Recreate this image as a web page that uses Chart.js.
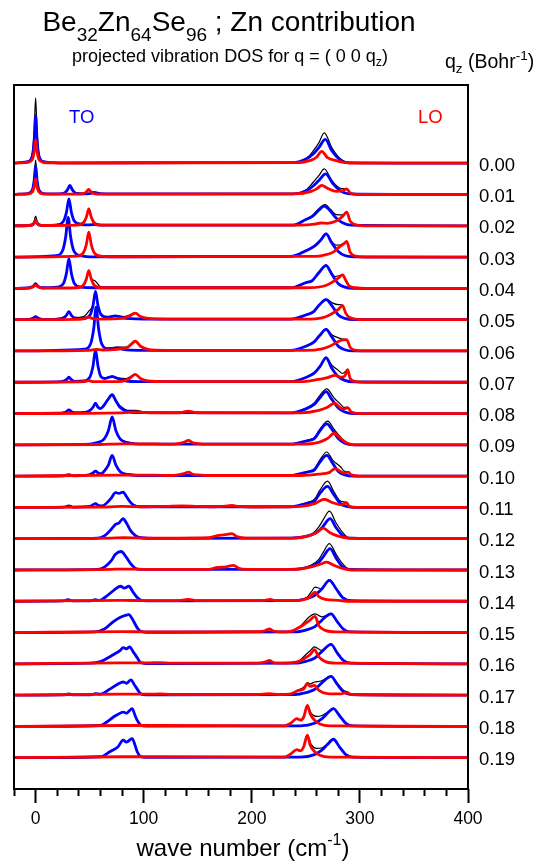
<!DOCTYPE html>
<html>
<head>
<meta charset="utf-8">
<script src="https://cdn.jsdelivr.net/npm/chart.js@4.4.1/dist/chart.umd.min.js"></script>
<style>
  body { margin: 0; background: #fff; }
  #wrap { position: relative; width: 550px; height: 864px; font-family: 'Liberation Sans', Arial, sans-serif; }
  #dos { position: absolute; left: 0; top: 0; }
  .txt { position: absolute; white-space: nowrap; color: #000; }
  .sub { position: relative; }
</style>
</head>
<body>
<div id="wrap">
  <canvas id="dos" width="550" height="864"></canvas>
  <div class="txt" style="left:-46px;width:550px;text-align:center;top:8px;font-size:28px;line-height:28px">Be<span class="sub" style="font-size:19px;top:10px">32</span>Zn<span class="sub" style="font-size:19px;top:10px">64</span>Se<span class="sub" style="font-size:19px;top:10px">96</span> ; Zn contribution</div>
  <div class="txt" style="left:-45px;width:550px;text-align:center;top:47px;font-size:18px;line-height:18px">projected vibration DOS for q = ( 0 0 q<span class="sub" style="font-size:12.5px;top:4px">z</span>)</div>
  <div class="txt" style="left:445px;top:52px;font-size:19.5px;line-height:19.5px">q<span class="sub" style="font-size:13.5px;top:5px">z</span> (Bohr<span class="sub" style="font-size:13.5px;top:-8px">-1</span>)</div>
  <div class="txt" style="left:69px;top:108px;font-size:18.5px;line-height:18.5px;color:#0000ff">TO</div>
  <div class="txt" style="left:418px;top:108px;font-size:18.5px;line-height:18.5px;color:#ff0000">LO</div>
  <div class="txt" style="left:-32px;width:550px;text-align:center;top:836px;font-size:24px;line-height:24px">wave number (cm<span class="sub" style="font-size:16px;top:-11px">-1</span>)</div>
</div>
<script>
const qz = ['0.00', '0.01', '0.02', '0.03', '0.04', '0.05', '0.06', '0.07', '0.08', '0.09',
    '0.10', '0.11', '0.12', '0.13', '0.14', '0.15', '0.16', '0.17', '0.18', '0.19']

const xTickValues = [-20, 0, 20, 40, 60, 80, 100, 120, 140, 160, 180, 200, 220, 240, 260, 280, 300, 320, 340, 360, 380, 400]
const xTickLabels = ['0', '100', '200', '300', '400']

// [wave number (cm-1), intensity] ; one row per qz, rows stacked with unit spacing
const toDos = [
    [[-20,0],[-15,0.02],[-7,0.05],[-3,0.24],[-1.3,0.76],[0,1.52],[1.3,0.76],[3,0.24],[7,0.05],[15,0.02],[25,0.01],[150,0.02],[238,0.02],[251,0.15],[257,0.3],[262,0.5],[268,0.76],[274,0.4],[281.6,0.11],[288,0.02],[400,0]],
    [[-20,0],[-15,0.01],[-7,0.03],[-3,0.15],[-1.3,0.47],[0,0.93],[1.3,0.47],[3,0.15],[7,0.03],[15,0.02],[21,0.02],[26.7,0.05],[29.4,0.15],[31.7,0.29],[34,0.15],[36.7,0.05],[43,0.02],[50,0.03],[55,0.06],[60,0.03],[90,0.02],[238,0.02],[251,0.13],[257,0.28],[262,0.45],[268.4,0.66],[275,0.35],[282,0.12],[290,0.02],[400,0]],
    [[-20,0],[-7,0.01],[-3,0.03],[-1.3,0.08],[0,0.17],[1.3,0.08],[3,0.03],[8,0.01],[19.8,0.03],[25.8,0.15],[28.5,0.43],[30.8,0.86],[33.1,0.43],[35.8,0.15],[41.8,0.04],[50,0.03],[55,0.04],[62,0.02],[238,0.02],[250,0.2],[256,0.3],[262,0.5],[267,0.63],[272,0.5],[278,0.25],[284,0.1],[292,0.02],[400,0]],
    [[-20,0],[19.1,0.05],[25.1,0.22],[27.8,0.64],[30.1,1.27],[32.4,0.64],[35.1,0.22],[41.1,0.05],[55,0.01],[236,0.02],[250,0.2],[258,0.35],[264,0.55],[268.7,0.74],[274,0.45],[280,0.18],[286,0.05],[294,0.01],[400,0]],
    [[-20,0],[-6,0.02],[-2,0.07],[0,0.15],[2,0.07],[6,0.02],[19.8,0.04],[25.8,0.16],[28.5,0.48],[30.8,0.95],[33.1,0.48],[35.8,0.16],[41.8,0.04],[55,0.02],[236,0.02],[250,0.18],[256,0.25],[262,0.5],[268.7,0.73],[274,0.45],[280,0.15],[286,0.04],[294,0],[400,0]],
    [[-20,0],[-6,0.01],[-2,0.05],[0,0.1],[2,0.05],[6,0.01],[19.8,0.02],[25.8,0.06],[28.5,0.14],[30.8,0.26],[33.1,0.14],[35.8,0.06],[44.4,0.04],[50.4,0.15],[53.1,0.45],[55.4,0.9],[57.7,0.45],[60.4,0.17],[66,0.08],[73.9,0.12],[80,0.06],[88,0.03],[100,0.02],[236,0.02],[250,0.15],[257,0.25],[262,0.45],[268.7,0.64],[274,0.45],[280,0.15],[286,0.04],[294,0],[400,0]],
    [[-20,0],[45,0.06],[51,0.24],[53.7,0.7],[56,1.4],[58.3,0.7],[61,0.24],[67,0.07],[75.4,0.1],[82,0.04],[95,0.02],[236,0.02],[250,0.15],[258,0.3],[263,0.5],[268.7,0.69],[274,0.45],[280,0.15],[286,0.04],[294,0],[400,0]],
    [[-20,0],[20,0.01],[26,0.04],[28.5,0.08],[30.8,0.16],[33.1,0.08],[36,0.03],[44.4,0.04],[50.4,0.18],[53.1,0.52],[55.4,1.04],[57.7,0.52],[60.4,0.18],[64,0.12],[70.8,0.18],[76,0.12],[84,0.04],[95,0.02],[236,0.02],[250,0.15],[258,0.3],[263,0.5],[268.7,0.78],[274,0.45],[280,0.18],[286,0.06],[294,0.01],[400,0]],
    [[-20,0],[20,0.01],[26,0.03],[28.5,0.06],[30.8,0.12],[33.1,0.06],[36,0.03],[46,0.04],[51,0.12],[53.1,0.2],[55.4,0.33],[57.7,0.2],[60,0.16],[63,0.25],[67,0.45],[70.8,0.6],[74.3,0.4],[78,0.2],[85,0.07],[95,0.03],[236,0.02],[250,0.15],[258,0.3],[263,0.5],[268.7,0.7],[274,0.45],[280,0.18],[286,0.05],[294,0],[400,0]],
    [[-20,0],[50,0.02],[56,0.06],[63.3,0.18],[67.3,0.45],[70.8,0.89],[74.3,0.45],[78.3,0.18],[86,0.06],[100,0.02],[236,0.02],[250,0.12],[253,0.14],[258,0.2],[263,0.45],[269.3,0.67],[275,0.45],[280,0.2],[286,0.05],[294,0],[400,0]],
    [[-20,0],[26,0.01],[30.8,0.05],[35,0.01],[48,0.03],[53,0.1],[55.4,0.16],[58,0.1],[61,0.08],[63.3,0.15],[67.3,0.35],[70.8,0.66],[74.3,0.35],[78.3,0.14],[86,0.05],[100,0.02],[236,0.02],[250,0.12],[253,0.14],[258,0.2],[263,0.45],[269.3,0.66],[275,0.4],[280,0.15],[286,0.04],[294,0],[400,0]],
    [[-20,0],[26,0.01],[30.8,0.05],[35,0.01],[50,0.03],[55.4,0.12],[58,0.06],[62,0.05],[66,0.15],[70,0.3],[73.9,0.47],[77,0.45],[81,0.49],[84,0.35],[88,0.15],[91,0.06],[96,0.02],[236,0.02],[250,0.12],[253,0.15],[258,0.2],[263,0.45],[270,0.67],[276,0.4],[282,0.12],[288,0.03],[295,0],[400,0]],
    [[-20,0],[30,0.01],[57,0.02],[64,0.1],[70,0.3],[73.9,0.46],[77,0.5],[81,0.64],[84,0.5],[88,0.25],[92.3,0.1],[97,0.03],[110,0.01],[236,0.02],[255,0.12],[262,0.25],[266,0.4],[272.4,0.64],[278,0.35],[284,0.1],[290,0.02],[400,0]],
    [[-20,0],[57,0.02],[64,0.1],[70,0.3],[73.9,0.5],[79.1,0.59],[84,0.4],[88,0.2],[92.3,0.05],[97,0.02],[236,0.02],[255,0.12],[262,0.25],[266,0.42],[272.4,0.68],[278,0.38],[284,0.1],[290,0.02],[400,0]],
    [[-20,0],[26,0.01],[30,0.05],[34,0.01],[51,0.01],[55,0.05],[59,0.03],[64,0.12],[72.3,0.35],[78.5,0.48],[82,0.42],[86.2,0.48],[90,0.3],[94,0.12],[97,0.04],[102,0.01],[240,0.02],[250,0.08],[258,0.18],[265,0.4],[271.8,0.67],[278,0.4],[284,0.12],[292,0.02],[400,0]],
    [[-20,0],[55,0.02],[64,0.12],[72,0.35],[78.5,0.49],[83.1,0.55],[86.2,0.57],[90,0.4],[94,0.15],[97,0.04],[102,0.01],[240,0.02],[250,0.08],[258,0.18],[265,0.4],[273.3,0.6],[279,0.35],[285,0.1],[292,0.02],[400,0]],
    [[-20,0],[50.8,0.02],[60,0.07],[72.3,0.3],[78,0.42],[81,0.52],[84,0.48],[87,0.54],[90,0.4],[93.9,0.2],[97,0.04],[102,0.01],[240,0.02],[250,0.08],[258,0.18],[265,0.4],[273.3,0.62],[279,0.35],[285,0.1],[292,0.02],[400,0]],
    [[-20,0],[26,0.01],[30.8,0.04],[35,0.01],[51,0.01],[55.4,0.05],[60,0.03],[69,0.2],[76,0.35],[81,0.42],[84,0.38],[88.3,0.49],[91,0.35],[93.9,0.2],[97,0.05],[102,0.01],[240,0.02],[250,0.08],[258,0.18],[265,0.4],[273.3,0.6],[279,0.35],[285,0.1],[292,0.02],[400,0]],
    [[-20,0],[60,0.03],[66.2,0.15],[72,0.3],[76,0.38],[81,0.46],[84,0.42],[89.3,0.57],[92,0.35],[93.9,0.2],[97,0.05],[102,0.01],[245,0.02],[258,0.1],[265,0.25],[270,0.42],[275.5,0.57],[281,0.35],[287,0.1],[294,0.02],[400,0]],
    [[-20,0],[60,0.03],[69,0.2],[76,0.34],[81,0.56],[84,0.5],[89.3,0.61],[92,0.4],[93.9,0.2],[97,0.04],[102,0.01],[245,0.02],[258,0.1],[265,0.25],[270,0.42],[275.5,0.59],[281,0.35],[287,0.1],[294,0.02],[400,0]]
]

const loDos = [
    [[-20,0],[-15,0.01],[-7,0.03],[-3,0.12],[-1.3,0.38],[0,0.75],[1.3,0.38],[3,0.12],[7,0.03],[15,0.01],[25,0],[240,0.02],[255,0.1],[260,0.2],[264.7,0.38],[270,0.18],[278,0.08],[285,0.03],[295,0],[400,0]],
    [[-20,0],[-15,0.01],[-7,0.02],[-3,0.08],[-1.3,0.25],[0,0.5],[1.3,0.25],[3,0.08],[7,0.02],[15,0.01],[38,0.01],[44,0.03],[46.9,0.08],[49,0.16],[51.3,0.08],[54,0.03],[60,0.01],[240,0.02],[255,0.1],[260,0.18],[264.7,0.29],[270,0.2],[278,0.1],[284,0.12],[287.8,0.18],[291,0.05],[298,0],[400,0]],
    [[-20,0],[-7,0.01],[-3,0.03],[-1.3,0.08],[0,0.17],[1.3,0.08],[3,0.03],[8,0.01],[38.2,0.02],[44.2,0.09],[46.9,0.27],[49.2,0.54],[51.5,0.27],[54.2,0.09],[60.2,0.02],[245,0.02],[258,0.05],[264,0.09],[270,0.08],[278,0.15],[284,0.3],[287.8,0.44],[291,0.15],[296,0.03],[305,0],[400,0]],
    [[-20,0],[38.2,0.03],[44.2,0.14],[46.9,0.4],[49.2,0.8],[51.5,0.4],[54.2,0.14],[60.2,0.03],[70,0.01],[250,0.02],[265,0.05],[275,0.15],[282,0.35],[285,0.42],[287.8,0.5],[291,0.15],[296,0.03],[305,0],[400,0]],
    [[-20,0],[-6,0.01],[-2,0.05],[0,0.1],[2,0.05],[6,0.01],[38.2,0.02],[44.2,0.1],[46.9,0.29],[49.2,0.57],[51.5,0.29],[54.2,0.1],[60.2,0.02],[250,0.02],[265,0.06],[272,0.15],[280,0.33],[284,0.43],[287,0.25],[290,0.08],[296,0.02],[305,0],[400,0]],
    [[-20,0],[40,0.01],[46,0.04],[49.2,0.08],[52,0.04],[60,0.02],[80,0.04],[86,0.1],[92.3,0.21],[97,0.1],[104,0.04],[120,0.02],[250,0.02],[265,0.06],[272,0.15],[280,0.33],[284,0.45],[287,0.2],[290,0.08],[296,0.02],[305,0],[400,0]],
    [[-20,0],[50,0.02],[56,0.05],[62,0.03],[75,0.05],[84,0.1],[88,0.2],[92.3,0.31],[97,0.15],[104,0.05],[120,0.02],[250,0.02],[265,0.07],[272,0.15],[280,0.3],[284,0.35],[287.8,0.36],[291,0.12],[296,0.02],[305,0],[400,0]],
    [[-20,0],[45,0.02],[49.2,0.05],[53,0.02],[80,0.03],[86,0.1],[92.3,0.25],[97,0.12],[104,0.04],[120,0.02],[245,0.02],[260,0.08],[270,0.15],[277,0.22],[282,0.16],[286,0.2],[288.7,0.4],[291,0.12],[296,0.02],[305,0],[400,0]],
    [[-20,0],[80,0.02],[92.3,0.05],[105,0.02],[130,0.02],[136,0.04],[141.5,0.08],[146,0.04],[155,0.02],[245,0.02],[262,0.1],[270,0.2],[276.4,0.33],[282,0.18],[285,0.14],[288.7,0.19],[292,0.05],[300,0],[400,0]],
    [[-20,0],[60,0.01],[80,0.03],[110,0.03],[125,0.02],[133,0.05],[137,0.08],[141.5,0.14],[145,0.07],[150,0.04],[160,0.02],[245,0.02],[262,0.08],[270,0.2],[276.4,0.37],[282,0.2],[288,0.06],[295,0],[400,0]],
    [[-20,0],[80,0.03],[110,0.03],[125,0.02],[133,0.05],[137,0.08],[141.5,0.13],[145,0.06],[150,0.04],[160,0.02],[245,0.02],[262,0.06],[272,0.12],[277,0.24],[282,0.15],[286,0.1],[289.3,0.13],[292,0.04],[300,0],[400,0]],
    [[-20,0],[60,0.01],[80,0.03],[100,0.02],[120,0.03],[135,0.05],[150,0.03],[165,0.02],[175,0.04],[181.6,0.06],[188,0.03],[200,0.01],[245,0.03],[258,0.12],[267,0.26],[275,0.15],[283,0.08],[287.8,0.15],[290,0.04],[297,0],[400,0]],
    [[-20,0],[70,0.02],[81,0.03],[100,0.02],[130,0.02],[160,0.03],[168,0.1],[174,0.12],[181.6,0.16],[186,0.07],[195,0.02],[240,0.02],[252,0.08],[260,0.2],[266.2,0.34],[272,0.2],[280,0.08],[290,0.02],[400,0]],
    [[-20,0],[70,0.02],[81,0.03],[100,0.02],[140,0.02],[160,0.02],[168,0.08],[176,0.1],[183,0.15],[188,0.05],[195,0.02],[240,0.02],[255,0.1],[263,0.18],[269.3,0.25],[276,0.15],[284,0.05],[292,0],[400,0]],
    [[-20,0],[81,0.03],[100,0.02],[130,0.02],[141.5,0.06],[150,0.02],[200,0.02],[212,0.03],[217,0.06],[222,0.02],[240,0.02],[248,0.05],[253,0.12],[256,0.22],[258.5,0.29],[262,0.15],[268,0.06],[280,0.03],[290,0],[400,0]],
    [[-20,0],[81,0.03],[100,0.02],[160,0.02],[200,0.03],[210,0.04],[213.5,0.08],[216.4,0.12],[219.3,0.06],[225,0.02],[235,0.03],[244.7,0.18],[253,0.37],[258.5,0.52],[262,0.22],[268,0.07],[278,0.02],[400,0]],
    [[-20,0],[81,0.03],[105,0.03],[115,0.04],[125,0.02],[200,0.02],[210,0.04],[213.5,0.07],[216.4,0.11],[219.3,0.05],[225,0.02],[235,0.03],[244.7,0.09],[250,0.2],[254,0.3],[258,0.45],[262,0.22],[268,0.07],[278,0.02],[400,0]],
    [[-20,0],[81,0.03],[105,0.03],[115,0.04],[125,0.02],[205,0.02],[216,0.05],[225,0.02],[235,0.03],[243.1,0.15],[248,0.2],[251.4,0.37],[254,0.28],[258,0.31],[262,0.15],[270,0.05],[282,0.04],[288.6,0.08],[292,0.02],[400,0]],
    [[-20,0],[81,0.03],[115,0.03],[230,0.02],[236,0.1],[241.6,0.25],[245,0.2],[248,0.3],[251.4,0.67],[254,0.4],[258,0.2],[263,0.08],[272,0.02],[400,0]],
    [[-20,0],[81,0.03],[115,0.03],[230,0.02],[236,0.12],[241.6,0.26],[245,0.22],[248,0.35],[251.4,0.72],[254,0.4],[258,0.2],[263,0.08],[272,0.02],[400,0]]
]

const totalDos = [
    [[-20,0],[-15,0.02],[-7,0.07],[-3,0.33],[-1.3,1.05],[0,2.09],[1.3,1.05],[3,0.33],[7,0.07],[15,0.02],[25,0.01],[238,0.02],[251,0.17],[257,0.4],[262,0.65],[267,0.97],[274,0.5],[281.6,0.15],[288,0.03],[295,0],[400,0]],
    [[-20,0],[-15,0.01],[-7,0.04],[-3,0.18],[-1.3,0.55],[0,1.1],[1.3,0.55],[3,0.18],[7,0.04],[15,0.02],[21,0.02],[26.7,0.05],[29.4,0.15],[31.7,0.3],[34,0.15],[36.7,0.06],[44,0.04],[46.9,0.09],[49,0.17],[51.3,0.1],[55,0.08],[60,0.03],[90,0.02],[238,0.02],[251,0.17],[257,0.4],[262,0.6],[267,0.82],[274,0.45],[282,0.2],[287.8,0.18],[292,0.04],[300,0],[400,0]],
    [[-20,0],[-7,0.02],[-3,0.06],[-1.3,0.16],[0,0.31],[1.3,0.16],[3,0.06],[8,0.02],[19.8,0.03],[25.8,0.15],[28.5,0.44],[30.8,0.87],[33.1,0.44],[35.8,0.16],[41.8,0.08],[46.9,0.28],[49.2,0.55],[51.5,0.3],[55,0.1],[60.2,0.04],[238,0.02],[250,0.22],[256,0.33],[262,0.55],[267.8,0.68],[273,0.52],[278,0.36],[284,0.35],[287.8,0.44],[291,0.15],[296,0.03],[305,0],[400,0]],
    [[-20,0],[19.1,0.05],[25.1,0.22],[27.8,0.65],[30.1,1.28],[32.4,0.65],[35.1,0.24],[41.1,0.08],[44.2,0.15],[46.9,0.41],[49.2,0.81],[51.5,0.41],[54.2,0.15],[60.2,0.03],[236,0.02],[250,0.22],[258,0.37],[264,0.57],[268.7,0.76],[274,0.5],[278.6,0.38],[284,0.42],[287.8,0.5],[291,0.15],[296,0.03],[305,0],[400,0]],
    [[-20,0],[-6,0.02],[-2,0.07],[0,0.15],[2,0.07],[6,0.02],[19.8,0.04],[25.8,0.16],[28.5,0.49],[30.8,0.96],[33.1,0.49],[35.8,0.17],[41.8,0.06],[44.2,0.11],[46.9,0.3],[49.2,0.58],[51.5,0.32],[55.4,0.23],[59,0.08],[65,0.02],[236,0.02],[250,0.2],[256,0.27],[262,0.52],[268.7,0.75],[277,0.38],[284,0.43],[287,0.25],[290,0.08],[296,0.02],[305,0],[400,0]],
    [[-20,0],[-6,0.01],[-2,0.05],[0,0.1],[2,0.05],[6,0.01],[19.8,0.02],[25.8,0.06],[28.5,0.15],[30.8,0.27],[33.1,0.15],[35.8,0.07],[44.4,0.1],[49.2,0.27],[53.1,0.47],[55.4,0.92],[57.7,0.47],[60.4,0.18],[66,0.09],[73.9,0.13],[82,0.1],[86,0.14],[92.3,0.22],[97,0.11],[104,0.04],[120,0.02],[236,0.02],[250,0.16],[257,0.27],[262,0.47],[268.7,0.66],[275,0.53],[280,0.48],[284,0.46],[287,0.2],[290,0.08],[296,0.02],[305,0],[400,0]],
    [[-20,0],[45,0.06],[51,0.25],[53.7,0.71],[56,1.42],[58.3,0.71],[61,0.26],[67,0.09],[75.4,0.12],[84,0.12],[88,0.21],[92.3,0.32],[97,0.16],[104,0.05],[120,0.02],[236,0.02],[250,0.16],[258,0.32],[263,0.52],[268.7,0.71],[274,0.52],[280,0.42],[284,0.38],[287.8,0.36],[291,0.12],[296,0.02],[305,0],[400,0]],
    [[-20,0],[20,0.01],[26,0.04],[28.5,0.08],[30.8,0.16],[33.1,0.08],[36,0.03],[44.4,0.05],[50.4,0.19],[53.1,0.53],[55.4,1.05],[57.7,0.53],[60.4,0.19],[64,0.14],[70.8,0.2],[76,0.14],[84,0.12],[92.3,0.26],[97,0.12],[104,0.04],[120,0.02],[236,0.02],[250,0.16],[258,0.32],[263,0.52],[268.7,0.8],[274,0.55],[280,0.38],[284,0.28],[288.7,0.4],[291,0.12],[296,0.02],[305,0],[400,0]],
    [[-20,0],[20,0.01],[26,0.03],[28.5,0.06],[30.8,0.12],[33.1,0.06],[36,0.03],[46,0.04],[51,0.13],[53.1,0.21],[55.4,0.34],[57.7,0.21],[60,0.17],[63,0.26],[67,0.46],[70.8,0.61],[74.3,0.42],[78,0.25],[80,0.2],[85,0.1],[92.3,0.1],[105,0.03],[136,0.04],[141.5,0.08],[146,0.04],[236,0.02],[250,0.17],[258,0.35],[263,0.58],[269.3,0.79],[276,0.5],[282,0.3],[285,0.2],[288.7,0.2],[292,0.05],[300,0],[400,0]],
    [[-20,0],[50,0.02],[56,0.06],[63.3,0.19],[67.3,0.46],[70.8,0.9],[74.3,0.46],[78.3,0.2],[86,0.08],[100,0.03],[110,0.03],[125,0.02],[133,0.05],[137,0.08],[141.5,0.15],[145,0.07],[150,0.04],[160,0.02],[236,0.02],[250,0.13],[253,0.16],[258,0.24],[263,0.5],[270.2,0.76],[276,0.5],[282,0.25],[288,0.06],[295,0],[400,0]],
    [[-20,0],[26,0.01],[30.8,0.05],[35,0.01],[48,0.03],[53,0.1],[55.4,0.16],[58,0.1],[61,0.09],[63.3,0.16],[67.3,0.36],[70.8,0.67],[74.3,0.36],[78.3,0.15],[86,0.07],[110,0.03],[133,0.05],[137,0.08],[141.5,0.14],[145,0.06],[150,0.04],[160,0.02],[236,0.02],[250,0.13],[253,0.16],[258,0.24],[263,0.52],[269.3,0.77],[275,0.5],[282,0.3],[286,0.15],[289.3,0.14],[292,0.04],[300,0],[400,0]],
    [[-20,0],[26,0.01],[30.8,0.05],[35,0.01],[50,0.03],[55.4,0.13],[58,0.07],[62,0.06],[66,0.16],[70,0.31],[73.9,0.48],[77,0.46],[81,0.5],[84,0.36],[88,0.17],[91,0.08],[96,0.04],[120,0.03],[135,0.05],[150,0.03],[175,0.04],[181.6,0.06],[188,0.03],[236,0.02],[250,0.14],[253,0.17],[258,0.26],[263,0.55],[270,0.84],[276,0.5],[282,0.2],[287.8,0.15],[290,0.04],[297,0],[400,0]],
    [[-20,0],[30,0.01],[57,0.02],[64,0.11],[70,0.31],[73.9,0.47],[77,0.51],[81,0.65],[84,0.51],[88,0.26],[92.3,0.11],[97,0.04],[130,0.02],[160,0.03],[168,0.1],[174,0.12],[181.6,0.16],[186,0.07],[195,0.02],[236,0.02],[255,0.14],[262,0.38],[266,0.6],[271.8,0.88],[278,0.5],[284,0.2],[290,0.03],[400,0]],
    [[-20,0],[57,0.02],[64,0.11],[70,0.31],[73.9,0.51],[79.1,0.6],[84,0.41],[88,0.21],[92.3,0.06],[97,0.03],[160,0.02],[168,0.08],[176,0.1],[183,0.15],[188,0.05],[195,0.02],[236,0.02],[255,0.16],[262,0.34],[266,0.56],[271.8,0.84],[278,0.5],[284,0.2],[290,0.03],[400,0]],
    [[-20,0],[26,0.01],[30,0.05],[34,0.01],[51,0.01],[55,0.05],[59,0.03],[64,0.12],[72.3,0.36],[78.5,0.49],[82,0.43],[86.2,0.49],[90,0.31],[94,0.13],[97,0.05],[102,0.02],[130,0.02],[141.5,0.06],[150,0.02],[200,0.02],[212,0.03],[217,0.06],[222,0.02],[240,0.02],[251,0.13],[255,0.3],[258.5,0.45],[264.7,0.4],[271.8,0.69],[278,0.42],[284,0.13],[292,0.02],[400,0]],
    [[-20,0],[55,0.02],[64,0.13],[72,0.36],[78.5,0.5],[83.1,0.56],[86.2,0.58],[90,0.41],[94,0.16],[97,0.05],[102,0.02],[200,0.03],[210,0.04],[213.5,0.08],[216.4,0.12],[219.3,0.06],[225,0.02],[235,0.03],[244.7,0.2],[253,0.5],[258.5,0.6],[264.7,0.5],[273.3,0.61],[279,0.36],[285,0.1],[292,0.02],[400,0]],
    [[-20,0],[50.8,0.02],[60,0.08],[72.3,0.31],[78,0.43],[81,0.53],[84,0.49],[87,0.55],[90,0.41],[93.9,0.21],[97,0.05],[102,0.02],[115,0.04],[125,0.02],[210,0.04],[213.5,0.07],[216.4,0.11],[219.3,0.05],[225,0.02],[235,0.03],[244.7,0.12],[250,0.3],[254,0.42],[258,0.54],[264.7,0.43],[273.3,0.63],[279,0.36],[285,0.1],[292,0.02],[400,0]],
    [[-20,0],[26,0.01],[30.8,0.04],[35,0.01],[51,0.01],[55.4,0.05],[60,0.04],[69,0.21],[76,0.36],[81,0.43],[84,0.39],[88.3,0.5],[91,0.36],[93.9,0.21],[97,0.06],[102,0.02],[115,0.04],[125,0.02],[216,0.05],[225,0.02],[235,0.03],[243.1,0.17],[248,0.25],[251.4,0.4],[254,0.36],[258,0.42],[264,0.45],[268,0.52],[273.3,0.61],[279,0.38],[285,0.15],[288.6,0.1],[292,0.02],[400,0]],
    [[-20,0],[60,0.03],[66.2,0.16],[72,0.31],[76,0.39],[81,0.47],[84,0.43],[89.3,0.58],[92,0.36],[93.9,0.21],[97,0.06],[102,0.02],[115,0.03],[230,0.02],[236,0.1],[241.6,0.26],[245,0.22],[248,0.32],[251.4,0.68],[255,0.42],[260,0.32],[265,0.35],[270,0.45],[275.5,0.58],[281,0.35],[287,0.1],[294,0.02],[400,0]],
    [[-20,0],[60,0.03],[69,0.21],[76,0.35],[81,0.57],[84,0.51],[89.3,0.62],[92,0.41],[93.9,0.21],[97,0.05],[102,0.02],[115,0.03],[230,0.02],[236,0.12],[241.6,0.27],[245,0.23],[248,0.37],[251.4,0.73],[255,0.42],[260,0.3],[265,0.32],[270,0.45],[275.5,0.6],[281,0.35],[287,0.1],[294,0.02],[400,0]]
]

Chart.defaults.font.family = "'Liberation Sans', Arial, sans-serif"
Chart.defaults.color = '#000'

// each qz row is lifted by one unit above the next one
const datasets = []
qz.forEach((q, i) => {
    const lift = qz.length - 1 - i
    const toXY = rows => rows.map(p => ({ x: p[0], y: p[1] + lift }))
    datasets.push({ data: toXY(totalDos[i]), borderColor: '#000000', borderWidth: 1.2, order: 3 })
    datasets.push({ data: toXY(toDos[i]), borderColor: '#0000ff', borderWidth: 2.8, order: 2 })
    datasets.push({ data: toXY(loDos[i]), borderColor: '#ff0000', borderWidth: 2.8, order: 1 })
})

const frame = {
    id: 'frame',
    afterDatasetsDraw(chart) {
        const { ctx, chartArea: a } = chart
        ctx.save()
        ctx.strokeStyle = '#000'
        ctx.lineWidth = 2
        ctx.strokeRect(a.left, a.top, a.right - a.left, a.bottom - a.top)
        ctx.restore()
    }
}

new Chart(document.querySelector('#dos'), {
    type: 'line',
    data: { datasets },
    plugins: [frame],
    options: {
        responsive: false,
        animation: false,
        devicePixelRatio: 1,
        layout: { padding: { left: 14, top: 85, right: 0, bottom: 0 } },
        elements: {
            point: { radius: 0 },
            line: { cubicInterpolationMode: 'monotone', borderJoinStyle: 'round', fill: false }
        },
        plugins: {
            legend: false,
            tooltip: { enabled: false }
        },
        scales: {
            x: {
                type: 'linear',
                min: -20,
                max: 400,
                afterBuildTicks: scale => { scale.ticks = xTickValues.map(v => ({ value: v })) },
                afterFit: scale => { scale.height = 75 },
                ticks: {
                    autoSkip: false,
                    maxRotation: 0,
                    padding: 6,
                    font: { size: 17.5 },
                    callback: value => value % 100 === 0 ? xTickLabels[value / 100] : ''
                },
                border: { display: false },
                grid: {
                    drawOnChartArea: false,
                    tickLength: 14,
                    tickWidth: 2,
                    tickColor: '#000',
                    tickBorderDash: ctx => ctx.tick && ctx.tick.value % 100 === 0 ? [] : [7, 40]
                }
            },
            y: {
                type: 'linear',
                position: 'right',
                min: -1,
                max: 21.5,
                afterBuildTicks: scale => { scale.ticks = qz.map((q, i) => ({ value: qz.length - 1 - i })) },
                afterFit: scale => { scale.width = 82 },
                ticks: {
                    padding: 11,
                    labelOffset: 2.5,
                    font: { size: 18.5 },
                    callback: value => qz[qz.length - 1 - value]
                },
                border: { display: false },
                grid: { drawOnChartArea: false, drawTicks: false }
            }
        }
    }
})
</script>
</body>
</html>
